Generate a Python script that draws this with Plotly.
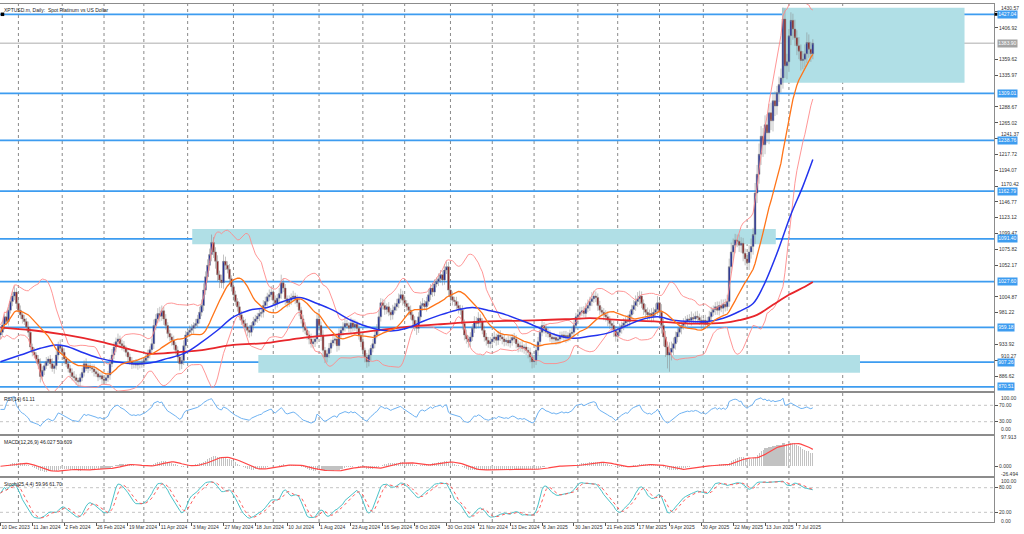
import numpy as np
import pandas as pd
import plotly.graph_objects as go

# ---------------- data ----------------
title_text = "XPTUSD.m, Daily:  Spot Platinum vs US Dollar"

date_labels = ["10 Dec 2023", "11 Jan 2024", "2 Feb 2024", "26 Feb 2024", "19 Mar 2024",
               "11 Apr 2024", "3 May 2024", "27 May 2024", "18 Jun 2024", "10 Jul 2024",
               "1 Aug 2024", "23 Aug 2024", "16 Sep 2024", "8 Oct 2024", "30 Oct 2024",
               "21 Nov 2024", "13 Dec 2024", "8 Jan 2025", "30 Jan 2025", "21 Feb 2025",
               "17 Mar 2025", "9 Apr 2025", "30 Apr 2025", "22 May 2025", "13 Jun 2025",
               "7 Jul 2025"]
label_bars = [0, 16, 32, 48, 64, 80, 96, 112, 128, 144, 160, 176, 192, 208, 224, 240,
              256, 272, 288, 304, 320, 336, 352, 368, 384, 400]
month_grid_bars = [9, 31, 52, 72, 94, 117, 137, 160, 182, 203, 226, 247, 268, 290, 310,
                   331, 353, 375, 396, 423]

# price-scale ticks that are visible in the reference (others are hidden behind level labels)
price_ticks = [1430.57, 1406.92, 1359.62, 1335.97, 1288.67, 1265.02,
               1241.37, 1217.72, 1194.07, 1170.42, 1146.77, 1123.12, 1099.47, 1075.82,
               1052.17, 1004.87, 981.22, 933.92, 910.27, 886.62]
# ticks whose text sits just above a level label: text nudged upward (pixels)
nudged_ticks = [1430.57, 1241.37, 1170.42, 910.27]
nudge_px = [4, 4.5, 2, 4.5]
levels = [1427.04, 1309.01, 1238.76, 1162.79, 1091.40, 1027.60, 959.18, 907.26, 870.51]
current_price = 1383.90

zone_x0 = [392.5, 96.3, 129.5]
zone_x1 = [484.2, 389.4, 431.7]
zone_lo = [1324.8, 1083.4, 891.6]
zone_hi = [1437.0, 1106.3, 918.0]

first_open = 948
closes = [
    952, 963, 975, 968, 985, 998, 1006, 1012, 995, 985,
    978, 972, 968, 960, 952, 930, 922, 918, 912, 905,
    886, 895, 902, 908, 912, 905, 898, 902, 918, 932,
    928, 922, 912, 905, 898, 892, 886, 884, 880, 878,
    884, 892, 905, 898, 902, 899, 897, 893, 890, 885,
    887, 882, 880, 884, 888, 905, 918, 930, 938, 942,
    935, 932, 928, 922, 915, 908, 904, 906, 903, 906,
    904, 907, 910, 914, 920, 926, 935, 962, 972, 980,
    976, 984, 972, 962, 950, 945, 940, 933, 925, 915,
    905, 910, 932, 948, 952, 955, 958, 962, 965, 972,
    982, 992, 1015, 1035, 1052, 1068, 1086, 1072, 1058, 1038,
    1030, 1026, 1058, 1052, 1046, 1032, 1020, 1008, 998, 990,
    978, 970, 965, 960, 955, 952, 962, 968, 972, 976,
    980, 982, 992, 998, 1005, 1008, 1012, 1000, 995, 1003,
    1010, 1026, 1018, 1002, 996, 1000, 1004, 1006, 1002, 996,
    985, 972, 960, 955, 948, 942, 935, 938, 942, 972,
    962, 948, 925, 915, 920, 928, 936, 940, 942, 932,
    950, 955, 960, 965, 962, 958, 966, 960, 964, 958,
    948, 938, 925, 915, 908, 918, 928, 935, 948, 955,
    975, 996, 992, 986, 990, 982, 978, 985, 990, 995,
    1002, 1008, 1000, 995, 990, 985, 978, 970, 962, 958,
    975, 992, 995, 990, 998, 1008, 1018, 1012, 1024, 1028,
    1032, 1038, 1030, 1045, 1050, 1015, 1005, 1000, 998, 992,
    988, 985, 965, 948, 942, 938, 945, 958, 968, 965,
    973, 968, 955, 945, 940, 935, 938, 942, 945, 940,
    948, 945, 942, 938, 940, 936, 940, 944, 942, 935,
    930, 932, 928, 930, 925, 922, 915, 908, 910, 925,
    938, 952, 962, 958, 952, 950, 945, 942, 944, 940,
    942, 946, 948, 944, 947, 945, 950, 952, 962, 975,
    978, 982, 984, 980, 988, 992, 998, 1002, 1006, 1004,
    992, 985, 982, 978, 975, 970, 965, 962, 955, 946,
    952, 958, 962, 966, 970, 968, 978, 986, 992, 998,
    1002, 1006, 995, 986, 982, 978, 980, 976, 982, 986,
    996, 982, 962, 945, 930, 918, 922, 928, 935, 945,
    952, 958, 962, 966, 968, 972, 970, 974, 972, 976,
    974, 970, 966, 970, 964, 968, 975, 982, 986, 990,
    985, 992, 988, 994, 990, 998, 1050, 1072, 1082, 1090,
    1088, 1082, 1085, 1070, 1062, 1056, 1072, 1080, 1098, 1160,
    1188, 1218, 1245, 1232, 1262, 1250, 1280, 1268, 1298, 1290,
    1310, 1322, 1332, 1420, 1350, 1356, 1395, 1418, 1405, 1392,
    1380, 1372, 1358, 1360, 1368, 1385, 1375, 1368, 1383.9]

wick_up = [
    5, 6, 4, 8, 5, 6, 7, 9, 6, 5, 7, 4, 6, 5, 8, 6, 5, 7, 4, 6,
    8, 6, 5, 7, 4, 6, 8, 5, 7, 6, 9, 5, 6, 4, 7, 5, 6, 8, 5, 4,
    6, 7, 5, 8, 4, 6, 5, 7, 4, 6, 5, 6, 4, 7, 6, 8, 9, 7, 6, 8,
    5, 6, 7, 4, 6, 5, 7, 4, 6, 5, 4, 6, 5, 7, 6, 5, 8, 9, 7, 8,
    10, 8, 6, 7, 5, 6, 5, 7, 4, 6, 5, 7, 8, 6, 5, 7, 6, 5, 7, 6,
    8, 9, 10, 8, 9, 9, 12, 8, 7, 9, 6, 8, 10, 7, 6, 8, 5, 7, 6, 5,
    7, 6, 5, 7, 6, 8, 5, 7, 6, 5, 7, 6, 8, 7, 6, 8, 9, 5, 7, 6,
    8, 12, 7, 6, 5, 7, 6, 8, 5, 6, 7, 5, 6, 7, 5, 6, 8, 7, 5, 9,
    10, 6, 7, 5, 6, 8, 5, 7, 6, 5, 8, 6, 7, 9, 6, 5, 8, 6, 7, 5,
    6, 5, 7, 4, 6, 8, 5, 7, 6, 9, 10, 7, 6, 8, 5, 7, 6, 8, 6, 7,
    8, 9, 6, 7, 5, 6, 7, 5, 6, 8, 7, 6, 8, 5, 7, 9, 6, 8, 7, 6,
    8, 7, 6, 9, 8, 7, 6, 8, 5, 7, 6, 5, 7, 6, 8, 5, 7, 6, 8, 7,
    9, 6, 5, 7, 6, 5, 7, 6, 8, 5, 6, 7, 5, 6, 4, 7, 6, 5, 7, 6,
    5, 6, 7, 4, 6, 5, 7, 6, 8, 9, 7, 6, 8, 5, 7, 6, 5, 6, 7, 5,
    6, 7, 5, 6, 7, 5, 6, 7, 8, 6, 7, 8, 6, 7, 8, 9, 7, 10, 8, 7,
    6, 7, 5, 6, 7, 8, 6, 5, 7, 6, 8, 7, 6, 7, 5, 8, 6, 7, 8, 9,
    10, 8, 7, 6, 8, 7, 6, 8, 7, 9, 10, 8, 12, 10, 9, 8, 15, 10, 9, 8,
    7, 8, 6, 7, 8, 6, 7, 9, 6, 7, 8, 6, 7, 5, 8, 7, 9, 8, 6, 7,
    8, 6, 9, 7, 8, 10, 12, 14, 10, 9, 8, 10, 9, 8, 7, 9, 10, 12, 10, 15,
    14, 16, 15, 12, 14, 16, 13, 15, 12, 14, 10, 12, 14, 17, 16, 12, 10, 12, 10, 14,
    11, 13, 10, 12, 14, 15, 12, 11, 6]

wick_dn = [
    6, 5, 7, 4, 6, 5, 7, 6, 8, 5, 6, 7, 5, 6, 7, 8, 6, 5, 7, 8,
    9, 6, 7, 5, 6, 7, 5, 8, 6, 7, 5, 6, 8, 5, 6, 7, 6, 5, 7, 8,
    7, 5, 6, 4, 7, 5, 6, 7, 5, 6, 4, 7, 6, 5, 6, 7, 5, 6, 8, 7,
    6, 7, 5, 6, 8, 5, 7, 6, 5, 7, 6, 5, 8, 6, 5, 7, 6, 8, 7, 6,
    8, 7, 9, 6, 7, 6, 8, 7, 6, 9, 10, 8, 7, 6, 5, 7, 6, 8, 5, 6,
    7, 6, 8, 7, 9, 8, 10, 9, 11, 10, 12, 8, 9, 7, 6, 8, 7, 9, 6, 7,
    8, 7, 6, 8, 9, 8, 6, 7, 5, 6, 7, 6, 8, 5, 7, 6, 8, 7, 9, 6,
    7, 8, 6, 9, 7, 6, 7, 5, 8, 6, 9, 7, 8, 6, 7, 8, 6, 7, 8, 7,
    8, 9, 10, 9, 8, 6, 7, 5, 6, 9, 7, 6, 8, 7, 5, 6, 8, 7, 6, 8,
    7, 8, 9, 8, 9, 7, 8, 6, 7, 5, 8, 7, 6, 8, 7, 6, 8, 7, 5, 6,
    7, 6, 8, 7, 6, 8, 7, 9, 8, 10, 7, 6, 8, 5, 7, 6, 8, 7, 6, 5,
    7, 6, 8, 7, 6, 10, 9, 8, 7, 6, 8, 7, 9, 8, 7, 9, 8, 6, 7, 8,
    7, 8, 6, 7, 8, 6, 7, 5, 6, 8, 7, 6, 8, 7, 6, 5, 7, 8, 6, 7,
    8, 7, 6, 8, 7, 9, 8, 10, 9, 7, 8, 7, 6, 8, 7, 6, 7, 8, 6, 7,
    6, 7, 5, 6, 8, 7, 6, 5, 7, 6, 8, 7, 6, 5, 7, 6, 8, 7, 6, 7,
    8, 7, 6, 8, 7, 9, 8, 9, 10, 8, 7, 6, 8, 7, 6, 8, 7, 6, 7, 8,
    8, 9, 7, 8, 10, 8, 7, 9, 8, 7, 8, 10, 12, 14, 15, 20, 25, 12, 10, 9,
    8, 7, 9, 6, 8, 7, 6, 8, 7, 6, 8, 7, 9, 8, 7, 6, 8, 7, 6, 8,
    7, 8, 6, 9, 7, 6, 8, 9, 10, 12, 9, 10, 11, 12, 10, 9, 11, 10, 12, 14,
    15, 14, 16, 18, 14, 15, 17, 14, 16, 15, 13, 14, 12, 16, 18, 20, 15, 14, 16, 12,
    14, 12, 15, 13, 12, 14, 13, 12, 8]

# slow moving averages at knots
blue_knot_bars = [0, 10, 20, 28, 33, 42, 50, 58, 67, 75, 84, 92, 100, 109, 117, 125, 134,
                  142, 150, 159, 167, 176, 187, 196, 204, 212, 221, 229, 237, 246, 254,
                  263, 271, 279, 288, 296, 304, 313, 321, 330, 338, 346, 355, 363, 371,
                  378, 383, 390, 397, 403, 408]
blue_knot_vals = [908, 918, 928, 933, 931, 921, 913, 908, 905, 906, 913, 920, 935, 955,
                  975, 985, 989, 998, 1004, 995, 985, 970, 958, 954, 958, 968, 978, 985,
                  989, 984, 978, 968, 958, 948, 943, 946, 950, 960, 970, 975, 970, 968,
                  968, 973, 983, 995, 1020, 1070, 1128, 1170, 1210]
red_knot_bars = [0, 16, 33, 50, 67, 75, 84, 92, 100, 117, 134, 150, 167, 175, 187, 204,
                 221, 237, 254, 271, 288, 296, 313, 330, 346, 363, 371, 380, 388, 396,
                 404, 408]
red_knot_vals = [959, 955, 948, 938, 925, 920, 921, 923, 925, 933, 936, 943, 948, 950,
                 954, 960, 964, 967, 969, 970, 972, 973, 970, 968, 965, 966, 970, 978,
                 993, 1008, 1020, 1027]

rsi_text = "RSI(14) 61.11"
macd_text = "MACD(12,26,9) 46.027 50.609"
stoch_text = "Stoch(25,4,4) 59.96 61.70"

# ---------------- derived series ----------------
assert len(closes) == len(wick_up) == len(wick_dn), (len(closes), len(wick_up), len(wick_dn))
n = len(closes)
bars = np.arange(n)
close = np.array(closes, float)
open_ = np.concatenate([[first_open], close[:-1]])
high = np.maximum(open_, close) + np.array(wick_up, float)
low = np.minimum(open_, close) - np.array(wick_dn, float)
s = pd.Series(close)

mid = s.rolling(20, min_periods=1).mean()
sd = s.rolling(20, min_periods=2).std(ddof=0).bfill()
bb_up = mid + 2 * sd
bb_lo = mid - 2 * sd

d = s.diff().fillna(0)
g = d.clip(lower=0).ewm(alpha=1 / 14, adjust=True).mean()
l_ = (-d.clip(upper=0)).ewm(alpha=1 / 14, adjust=True).mean()
rsi = (100 - 100 / (1 + g / l_.replace(0, np.nan))).fillna(60)

ema12 = s.ewm(span=12, adjust=False).mean()
ema26 = s.ewm(span=26, adjust=False).mean()
macd = ema12 - ema26
signal = macd.rolling(9, min_periods=1).mean()

hh = pd.Series(high).rolling(25, min_periods=1).max()
ll = pd.Series(low).rolling(25, min_periods=1).min()
k = 100 * (s - ll).rolling(4, min_periods=1).sum() / (hh - ll).rolling(4, min_periods=1).sum()
dline = k.rolling(4, min_periods=1).mean()

# ---------------- figure ----------------
FONT = "Liberation Sans"
FRAME = "#8c8c8c"
XR = [-0.25, 499.0]

fig = go.Figure()

fig.add_trace(go.Candlestick(
    x=bars, open=open_, high=high, low=low, close=close,
    increasing=dict(line=dict(color="#858585", width=0.5), fillcolor="#1c2a9a"),
    decreasing=dict(line=dict(color="#858585", width=0.5), fillcolor="#8e1f1f"),
    whiskerwidth=0, xaxis="x", yaxis="y", showlegend=False, hoverinfo="skip"))

fig.add_trace(go.Scatter(x=bars, y=bb_up, mode="lines", line=dict(color="#ff8a8a", width=0.9),
                         xaxis="x", yaxis="y", showlegend=False, hoverinfo="skip"))
fig.add_trace(go.Scatter(x=bars, y=bb_lo, mode="lines", line=dict(color="#ff8a8a", width=0.9),
                         xaxis="x", yaxis="y", showlegend=False, hoverinfo="skip"))
fig.add_trace(go.Scatter(x=red_knot_bars, y=red_knot_vals, mode="lines",
                         line=dict(color="#e8262b", width=1.8, shape="spline", smoothing=1.0),
                         xaxis="x", yaxis="y", showlegend=False, hoverinfo="skip"))
fig.add_trace(go.Scatter(x=blue_knot_bars, y=blue_knot_vals, mode="lines",
                         line=dict(color="#2233ee", width=1.5, shape="spline", smoothing=1.0),
                         xaxis="x", yaxis="y", showlegend=False, hoverinfo="skip"))
fig.add_trace(go.Scatter(x=bars, y=mid, mode="lines", line=dict(color="#ff7418", width=1.3),
                         xaxis="x", yaxis="y", showlegend=False, hoverinfo="skip"))
fig.add_trace(go.Scatter(x=[1], y=[levels[0]], mode="markers",
                         marker=dict(symbol="square", size=3.5, color="#000"),
                         xaxis="x", yaxis="y", showlegend=False, hoverinfo="skip"))

# RSI
fig.add_trace(go.Scatter(x=bars, y=rsi, mode="lines", line=dict(color="#6eb2f2", width=1),
                         xaxis="x2", yaxis="y2", showlegend=False, hoverinfo="skip"))
# MACD
fig.add_trace(go.Bar(x=bars, y=macd, width=0.55, marker=dict(color="#c2c2c2", line=dict(width=0)),
                     xaxis="x3", yaxis="y3", showlegend=False, hoverinfo="skip"))
fig.add_trace(go.Scatter(x=bars, y=signal, mode="lines", line=dict(color="#ff4646", width=1.2),
                         xaxis="x3", yaxis="y3", showlegend=False, hoverinfo="skip"))
# Stochastic
fig.add_trace(go.Scatter(x=bars, y=k, mode="lines", line=dict(color="#4cc3c9", width=1),
                         xaxis="x4", yaxis="y4", showlegend=False, hoverinfo="skip"))
fig.add_trace(go.Scatter(x=bars, y=dline, mode="lines", line=dict(color="#ff5a5a", width=1, dash="dot"),
                         xaxis="x4", yaxis="y4", showlegend=False, hoverinfo="skip"))

shapes = []
for x0, x1, lo, hi in zip(zone_x0, zone_x1, zone_lo, zone_hi):
    shapes.append(dict(type="rect", xref="x", yref="y", x0=x0, x1=x1, y0=lo, y1=hi,
                       fillcolor="#b0dfe6", line=dict(width=0), layer="below"))
for b in month_grid_bars:
    shapes.append(dict(type="line", xref="x", yref="paper", x0=b, x1=b, y0=0, y1=1,
                       line=dict(color="#8a8a8a", width=1, dash="dot"), layer="below"))
shapes.append(dict(type="line", xref="paper", yref="y", x0=0, x1=1, y0=current_price, y1=current_price,
                   line=dict(color="#c8c8c8", width=1.5), layer="below"))
for lv in levels:
    shapes.append(dict(type="line", xref="paper", yref="y", x0=0, x1=1, y0=lv, y1=lv,
                       line=dict(color="#3d9cf0", width=1.7), layer="below"))
for lv, ax in [(30, "y2"), (70, "y2"), (20, "y4"), (80, "y4")]:
    shapes.append(dict(type="line", xref="paper", yref=ax, x0=0, x1=1, y0=lv, y1=lv,
                       line=dict(color="#c4c4c4", width=1, dash="dot"), layer="below"))
shapes.append(dict(type="rect", xref="paper", yref="y", x0=1.0005, x1=1.0035,
                   y0=levels[0] - 2.2, y1=levels[0] + 2.2, fillcolor="#000", line=dict(width=0)))

annotations = []
annotations.append(dict(text=title_text, xref="paper", yref="paper", x=0.002, y=1.0, xanchor="left",
                        yanchor="top", yshift=-1, showarrow=False, font=dict(family=FONT, size=5, color="#222")))
dom_main = [0.2529, 1.0]
dom_rsi = [0.1699, 0.2490]
dom_macd = [0.0888, 0.1660]
dom_sto = [0.0, 0.0849]
for txt, top in [(rsi_text, dom_rsi[1]), (macd_text, dom_macd[1]), (stoch_text, dom_sto[1])]:
    annotations.append(dict(text=txt, xref="paper", yref="paper", x=0.002, y=top, xanchor="left",
                            yanchor="top", yshift=-1, showarrow=False,
                            font=dict(family=FONT, size=5, color="#222")))
for lv in levels:
    annotations.append(dict(text=f"{lv:.2f}", xref="paper", yref="y", x=1.0, y=lv, xanchor="left",
                            xshift=3, showarrow=False, bgcolor="#3d9cf0", borderpad=0.3,
                            font=dict(family=FONT, size=5, color="#ffffff")))
annotations.append(dict(text=f"{current_price:.2f}", xref="paper", yref="y", x=1.0, y=current_price,
                        xanchor="left", xshift=3, showarrow=False, bgcolor="#a3a3a3", borderpad=0.3,
                        font=dict(family=FONT, size=5, color="#ffffff")))
for v, px in zip(nudged_ticks, nudge_px):
    annotations.append(dict(text=f"{v:.2f}", xref="paper", yref="y", x=1.0, y=v, xanchor="left",
                            xshift=5, yshift=px, showarrow=False,
                            font=dict(family=FONT, size=5, color="#333")))

# pinned end labels of the indicator scales (drawn inside their panel like the terminal does)
pinned = [("y2", 100, "100.00", "top", 0), ("y2", 0, "0.00", "bottom", 0),
          ("y3", 97.913, "97.913", "middle", 0), ("y3", -26.494, "-26.494", "middle", 0),
          ("y4", 100, "100.00", "middle", -1), ("y4", 0, "0.00", "middle", 0)]
for ax, val, txt, anc, ys in pinned:
    annotations.append(dict(text=txt, xref="paper", yref=ax, x=1.0, y=val, xanchor="left", xshift=5,
                            yanchor=anc, yshift=ys, showarrow=False,
                            font=dict(family=FONT, size=5, color="#333")))

tickfont = dict(family=FONT, size=5, color="#333")


def xa(anchor, show=False):
    d_ = dict(range=XR, showgrid=False, zeroline=False, showline=True, linecolor=FRAME, linewidth=1,
              mirror=True, fixedrange=True, anchor=anchor, rangeslider=dict(visible=False))
    if show:
        d_.update(tickmode="array", tickvals=label_bars, ticktext=date_labels, ticks="outside",
                  ticklen=3, tickcolor="#555", ticklabelposition="outside right", tickfont=tickfont,
                  tickangle=0, showticklabels=True)
    else:
        d_.update(showticklabels=False, ticks="")
    return d_


def ya(anchor, dom, rng, tv, tt):
    return dict(domain=dom, range=rng, side="right", anchor=anchor, tickmode="array", tickvals=tv,
                ticktext=tt, ticks="outside", ticklen=3, tickcolor="#555", tickfont=tickfont,
                showgrid=False, zeroline=False, showline=True, mirror=True, linecolor=FRAME,
                linewidth=1, fixedrange=True)


main_ticktext = ["" if v in nudged_ticks else f"{v:.2f}" for v in price_ticks]

fig.update_layout(
    width=1024, height=534, autosize=False,
    margin=dict(l=0, r=30, t=4, b=12),
    paper_bgcolor="#ffffff", plot_bgcolor="#ffffff",
    hovermode=False, showlegend=False, bargap=0, boxgap=0.12, boxgroupgap=0,
    xaxis=xa("y"), xaxis2=dict(xa("y2"), matches="x"), xaxis3=dict(xa("y3"), matches="x"),
    xaxis4=dict(xa("y4", show=True), matches="x"),
    yaxis=ya("x", dom_main, [864.25, 1442.43], price_ticks, main_ticktext),
    yaxis2=ya("x2", dom_rsi, [0, 100], [30, 70], ["30.00", "70.00"]),
    yaxis3=ya("x3", dom_macd, [-32.9, 102.3], [0], ["0.000"]),
    yaxis4=ya("x4", dom_sto, [-3.6, 103.6], [20, 80], ["20.00", "80.00"]),
    shapes=shapes, annotations=annotations,
)

fig.write_html("out.html", config={"displayModeBar": False, "staticPlot": True},
               post_script="document.body.style.margin='0px';")
